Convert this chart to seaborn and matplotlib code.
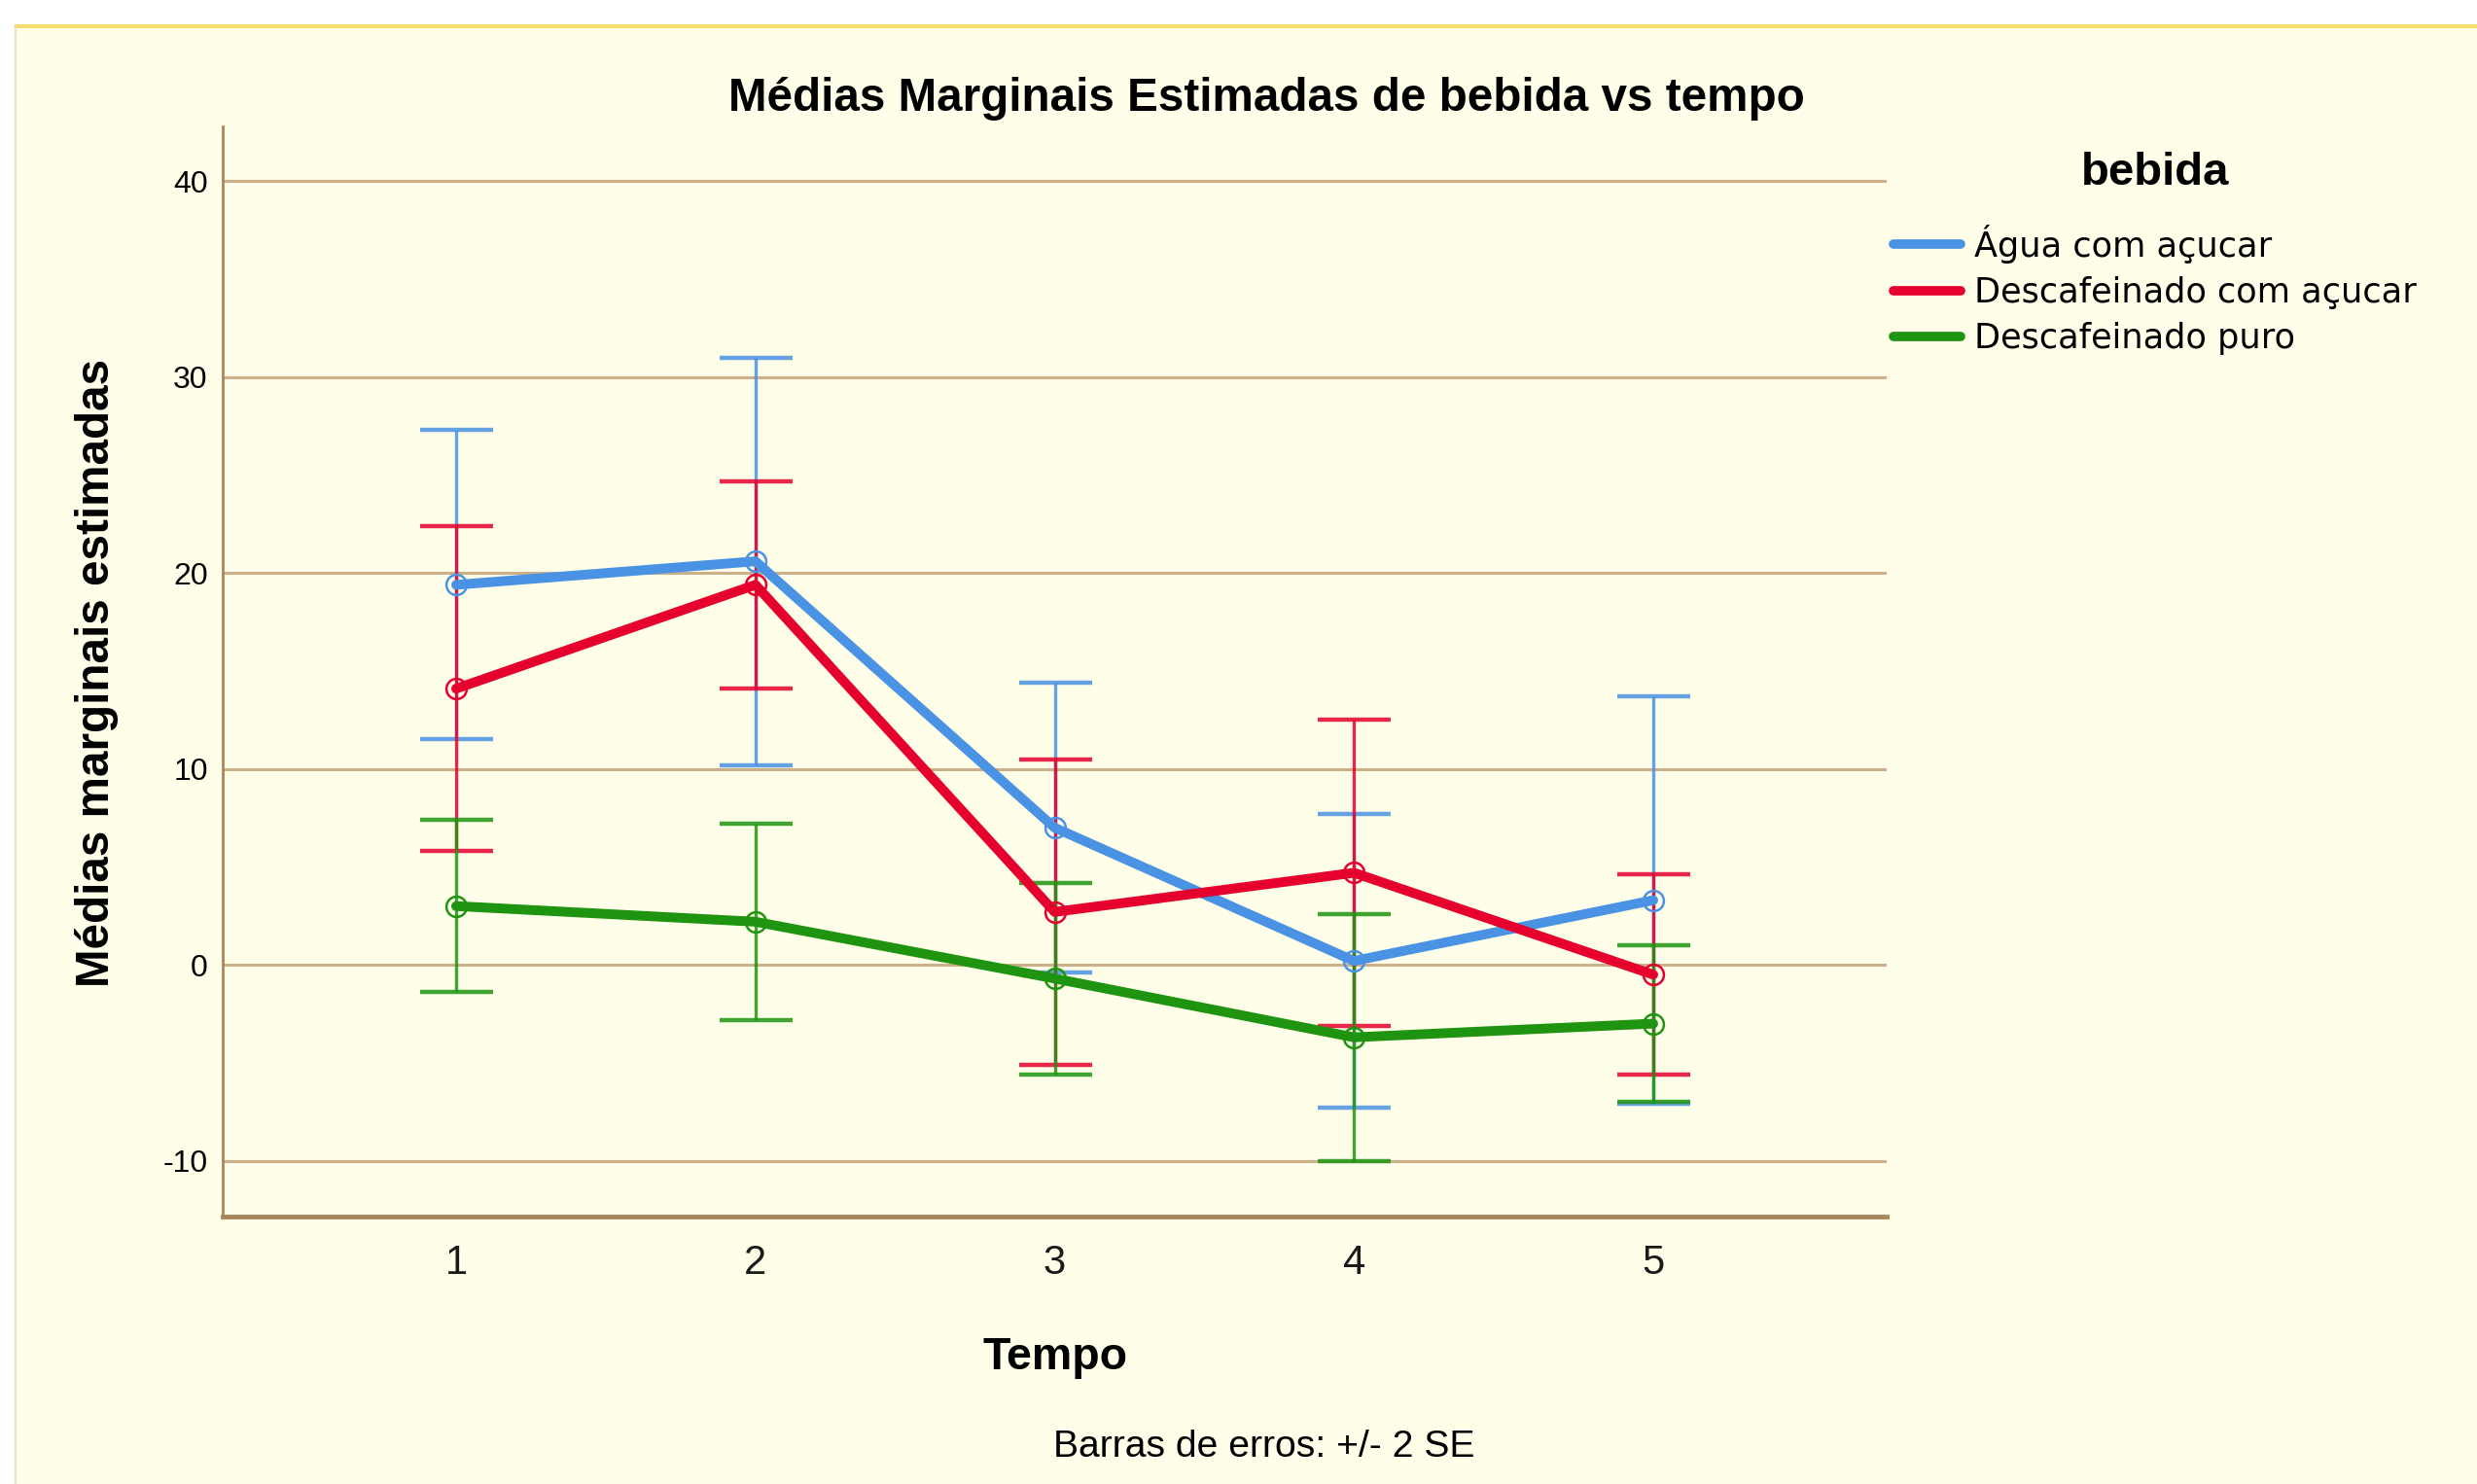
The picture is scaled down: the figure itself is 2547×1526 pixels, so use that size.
import numpy as np
import pandas as pd
import matplotlib
matplotlib.use("Agg")
import matplotlib.pyplot as plt
from matplotlib.lines import Line2D
from matplotlib.patches import Rectangle
import seaborn as sns

# ---- data ----
tempo = [1, 2, 3, 4, 5]
series_names = ["Água com açucar", "Descafeinado com açucar", "Descafeinado puro"]
agua_mean = [19.4, 20.6, 7.0, 0.2, 3.3]
agua_err = [7.9, 10.4, 7.4, 7.5, 10.4]
descaf_acucar_mean = [14.1, 19.4, 2.7, 4.7, -0.5]
descaf_acucar_err = [8.3, 5.3, 7.8, 7.8, 5.1]
descaf_puro_mean = [3.0, 2.2, -0.7, -3.7, -3.0]
descaf_puro_err = [4.4, 5.0, 4.9, 6.3, 4.0]
y_ticks = [-10, 0, 10, 20, 30, 40]
x_ticks = [1, 2, 3, 4, 5]

colors = {"Água com açucar": "#4A92E3",
          "Descafeinado com açucar": "#E5002E",
          "Descafeinado puro": "#1F9410"}

means = [agua_mean, descaf_acucar_mean, descaf_puro_mean]
errs = [agua_err, descaf_acucar_err, descaf_puro_err]

df = pd.DataFrame({
    "Tempo": tempo * 3,
    "media": agua_mean + descaf_acucar_mean + descaf_puro_mean,
    "bebida": sum([[n] * 5 for n in series_names], []),
})

sns.set_theme(style="white")
plt.rcParams["font.family"] = ["Liberation Sans", "DejaVu Sans"]
plt.rcParams["text.color"] = "black"

W, H = 2547, 1526
fig = plt.figure(figsize=(W / 100, H / 100), dpi=100, facecolor="white")
bg = "#FFFEE9"
fig.patches.append(Rectangle((16 / W, 0), 1, 1 - 27 / H, transform=fig.transFigure,
                             facecolor=bg, edgecolor="none", zorder=-10))
fig.lines.append(Line2D([16 / W, 1], [1 - 27 / H, 1 - 27 / H], transform=fig.transFigure,
                        color="#F6DD6E", lw=3))
fig.lines.append(Line2D([16 / W, 16 / W], [0, 1 - 27 / H], transform=fig.transFigure,
                        color="#E8E4C8", lw=1.5))

ax = fig.add_axes([229 / W, 1 - 1251 / H, (1940 - 229) / W, (1251 - 130) / H])
ax.set_facecolor(bg)

# error bars
for name, m, e in zip(series_names, means, errs):
    ax.errorbar(tempo, m, yerr=e, fmt="none", ecolor=colors[name], elinewidth=2.4,
                capsize=27, capthick=3.2, alpha=0.85, zorder=3)

n_before = len(ax.lines)
sns.lineplot(data=df, x="Tempo", y="media", hue="bebida", hue_order=series_names,
             palette=colors, marker="o", markersize=15, linewidth=7.2, legend=False,
             ax=ax, zorder=4)
for ln in ax.lines[n_before:]:
    c = ln.get_color()
    ln.set_markerfacecolor("none")
    ln.set_markeredgecolor(c)
    ln.set_markeredgewidth(1.8)

ax.set_xlim(0.22, 5.78)
ax.set_ylim(-12.85, 42.8)
ax.set_xticks(x_ticks)
ax.set_yticks(y_ticks)
ax.set_xticklabels([str(t) for t in x_ticks], fontsize=30, color="#1a1a1a")
ax.set_yticklabels([str(t) for t in y_ticks], fontsize=23, color="black")
ax.tick_params(axis="x", length=0, pad=20)
ax.tick_params(axis="y", length=0, pad=11)
ax.grid(axis="y", color="#CBB08A", lw=2.2, zorder=0)
ax.grid(axis="x", visible=False)
ax.set_axisbelow(True)
for s in ["top", "right"]:
    ax.spines[s].set_visible(False)
ax.spines["left"].set_color("#A8875C")
ax.spines["left"].set_linewidth(2)
ax.spines["bottom"].set_color("#A8875C")
ax.spines["bottom"].set_linewidth(3.5)
ax.set_xlabel("")
ax.set_ylabel("")

fig.text(1302 / W, 1 - 101 / H, "Médias Marginais Estimadas de bebida vs tempo",
         ha="center", va="center", fontsize=34.3, fontweight="bold", color="black")
fig.text(100 / W, 1 - 692 / H, "Médias marginais estimadas", rotation=90,
         ha="center", va="center", fontsize=34.3, fontweight="bold", color="black")
fig.text(1085 / W, 1 - 1396 / H, "Tempo", ha="center", va="center",
         fontsize=33.5, fontweight="bold", color="black")
fig.text(1300 / W, 1 - 1488 / H, "Barras de erros: +/- 2 SE", ha="center",
         va="center", fontsize=28.2, color="black")

handles = [Line2D([0], [0], color=colors[n], lw=7) for n in series_names]
leg = ax.legend(handles, series_names, title="bebida", loc="upper left",
                bbox_to_anchor=(1947 / W, 1 - 156 / H), bbox_transform=fig.transFigure,
                frameon=False, borderaxespad=0, borderpad=0, handlelength=1.95,
                handletextpad=0.4, labelspacing=0.38,
                prop={"family": "DejaVu Sans", "size": 25.3},
                title_fontproperties={"family": "Liberation Sans", "weight": "bold", "size": 34})
leg._legend_box.sep = 22
for t in leg.get_texts():
    t.set_color("black")
leg.get_title().set_color("black")

fig.savefig("out.png", dpi=100, facecolor=fig.get_facecolor())
